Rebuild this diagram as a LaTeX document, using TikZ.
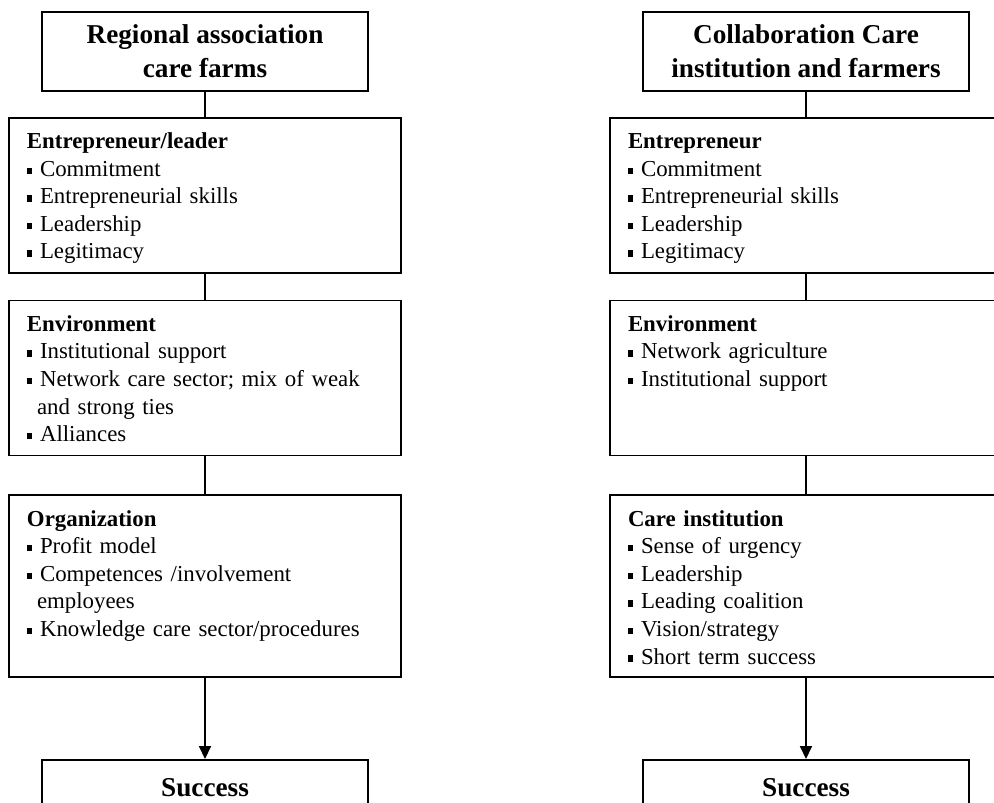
\documentclass[tikz,border=0pt]{standalone}
\usepackage{fontspec}
\setmainfont{Liberation Serif}
\usetikzlibrary{arrows.meta, positioning}

% square bullet and hanging indent for wrapped items
\newcommand{\itm}{\makebox[0.57em][l]{\rule[0.1em]{0.24em}{0.28em}}}
\newcommand{\cont}{\hspace*{0.44em}}
\frenchspacing

\begin{document}
\begin{tikzpicture}[
    font=\fontsize{13}{15.7}\selectfont,
    >={Triangle[length=0.26cm, width=0.24cm]},
    titlebox/.style={rectangle, draw, line width=1pt, anchor=north, align=center, minimum width=6.52cm, minimum height=1.58cm, font=\fontsize{15.5}{19.3}\selectfont\bfseries},
    panel/.style={rectangle, draw, line width=1pt, anchor=north, text width=7.12cm, inner xsep=0.36cm, inner ysep=0pt, align=left, text height=0.62cm},
    goal/.style={rectangle, draw, line width=1pt, anchor=north, minimum width=6.52cm, minimum height=1.12cm, font=\fontsize{15.5}{19.3}\selectfont\bfseries},
    link/.style={draw, line width=1pt},
    flow/.style={draw, ->, line width=1pt}
]
\useasboundingbox (0,0) rectangle (19.88,-16.04);

% Left column
\node[titlebox] (titleL) at (4.1,-0.22) {Regional association\\care farms};
\node[panel, text depth=2.48cm, below=0.5cm of titleL] (entL) {\textbf{Entrepreneur/leader}\\
    \itm Commitment\\
    \itm Entrepreneurial skills\\
    \itm Leadership\\
    \itm Legitimacy};
\node[panel, text depth=2.48cm, below=0.52cm of entL] (envL) {\textbf{Environment}\\
    \itm Institutional support\\
    \itm Network care sector; mix of weak\\
    \cont and strong ties\\
    \itm Alliances};
\node[panel, text depth=3.02cm, below=0.76cm of envL] (orgL) {\textbf{Organization}\\
    \itm Profit model\\
    \itm Competences /involvement\\
    \cont employees\\
    \itm Knowledge care sector/procedures};
\node[goal, below=1.62cm of orgL] (succL) {Success};

% Right column
\node[titlebox] (titleR) at (16.12,-0.22) {Collaboration Care\\institution and farmers};
\node[panel, text depth=2.48cm, below=0.5cm of titleR] (entR) {\textbf{Entrepreneur}\\
    \itm Commitment\\
    \itm Entrepreneurial skills\\
    \itm Leadership\\
    \itm Legitimacy};
\node[panel, text depth=2.48cm, below=0.52cm of entR] (envR) {\textbf{Environment}\\
    \itm Network agriculture\\
    \itm Institutional support};
\node[panel, text depth=3.02cm, below=0.76cm of envR] (careR) {\textbf{Care institution}\\
    \itm Sense of urgency\\
    \itm Leadership\\
    \itm Leading coalition\\
    \itm Vision/strategy\\
    \itm Short term success};
\node[goal, below=1.62cm of careR] (succR) {Success};

% Edges
\draw[link] (titleL) -- (entL);
\draw[link] (entL) -- (envL);
\draw[link] (envL) -- (orgL);
\draw[flow] (orgL) -- (succL);

\draw[link] (titleR) -- (entR);
\draw[link] (entR) -- (envR);
\draw[link] (envR) -- (careR);
\draw[flow] (careR) -- (succR);

\end{tikzpicture}
\end{document}
